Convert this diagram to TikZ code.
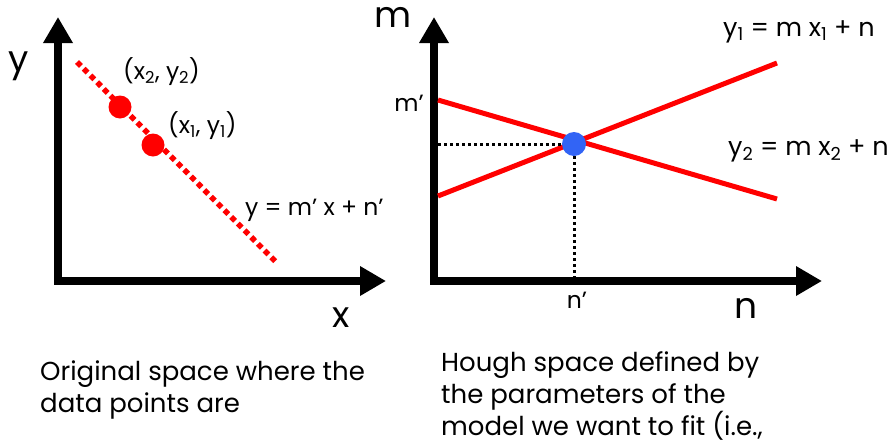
\documentclass[tikz,border=0pt]{standalone}
\usepackage{fontspec}
\setmainfont{Poppins}
\usepackage{tikz}
\usetikzlibrary{
    arrows.meta,
    positioning,
    calc
}
\definecolor{dotred}{RGB}{255,0,0}
\definecolor{dotblue}{RGB}{50,100,245}
\tikzset{
    axis/.style={
        draw=black,
        line width=8pt,
        line join=miter,
        {Triangle[length=26pt,width=28pt]}-{Triangle[length=26pt,width=28pt]}
    }
}
\tikzset{
    datapoint/.style={
        circle,
        fill=dotred,
        inner sep=0pt,
        minimum size=23pt
    }
}
\tikzset{
    peakpoint/.style={
        circle,
        fill=dotblue,
        inner sep=0pt,
        minimum size=24pt
    }
}
\tikzset{
    fitline/.style={
        draw=dotred,
        line width=5.5pt,
        dash pattern=on 5.5pt off 4pt
    }
}
\tikzset{
    paramline/.style={
        draw=dotred,
        line width=5pt
    }
}
\tikzset{
    guide/.style={
        draw=black,
        line width=3pt,
        dash pattern=on 3pt off 3pt
    }
}
\tikzset{
    axislabel/.style={
        font=\fontsize{36}{40}\selectfont,
        inner sep=0pt
    }
}
\tikzset{
    eqlabel/.style={
        font=\fontsize{23.5}{26}\selectfont,
        inner sep=0pt
    }
}
\tikzset{
    hougheq/.style={
        font=\fontsize{25.5}{28}\selectfont,
        inner sep=0pt,
        anchor=west
    }
}
\tikzset{
    caption/.style={
        font=\fontsize{26}{32}\selectfont,
        align=left,
        anchor=north west,
        inner sep=0pt
    }
}

\begin{document}
\begin{tikzpicture}[
    x=1pt,
    y=-1pt
]
\useasboundingbox (0,0) rectangle (889,445);

% original space
\coordinate (origA) at (58,281);
\coordinate (ytipA) at (58,17);
\coordinate (xtipA) at (386,281);
\draw[axis] (ytipA) -- (origA) -- (xtipA);

\node[axislabel] (ylab) at (19,66) {y};
\node[axislabel] (xlab) at (341,318) {x};

\coordinate (fitstart) at (77,62);
\coordinate (fitend) at (277,263);
\draw[fitline] (fitstart) -- (fitend);

\node[datapoint] (ptwo) at (120,107) {};
\node[datapoint] (pone) at (153,145) {};

\node[eqlabel, anchor=west] (ptwolab) at (123,72) {(x\textsubscript{2}, y\textsubscript{2})};
\node[eqlabel, anchor=west] (ponelab) at (168,126) {(x\textsubscript{1}, y\textsubscript{1})};
\node[eqlabel, anchor=west] (fitlab) at (245,210) {y = m' x + n'};

% hough space
\coordinate (origB) at (434,281);
\coordinate (ytipB) at (434,17);
\coordinate (xtipB) at (822,281);
\draw[axis] (ytipB) -- (origB) -- (xtipB);

\node[axislabel] (mlab) at (393,17) {m};
\node[axislabel] (nlab) at (746,308) {n};

\coordinate (oneleft) at (438,196);
\coordinate (oneright) at (777,63);
\coordinate (twoleft) at (438,100);
\coordinate (tworight) at (777,199);
\draw[paramline] (oneleft) -- (oneright);
\draw[paramline] (twoleft) -- (tworight);

\node[peakpoint] (peak) at (574,144) {};
\coordinate (peakm) at (438,144);
\coordinate (peakn) at (574,277);
\draw[guide] (peakm) -- (peak.west);
\draw[guide] (peak.south) -- (peakn);

\node[eqlabel] (mprime) at (409,103) {m'};
\node[eqlabel] (nprime) at (577,300) {n'};

\node[hougheq] (onelab) at (723,32) {y\textsubscript{1} = m x\textsubscript{1} + n};
\node[hougheq] (twolab) at (728,151) {y\textsubscript{2} = m x\textsubscript{2} + n};

% captions
\node[caption] (origcap) at (40,361) {Original space where the\\data points are};
\node[caption] (houghcap) at (441,351) {Hough space defined by\\the parameters of the\\model we want to fit (i.e.,};

\end{tikzpicture}
\end{document}
